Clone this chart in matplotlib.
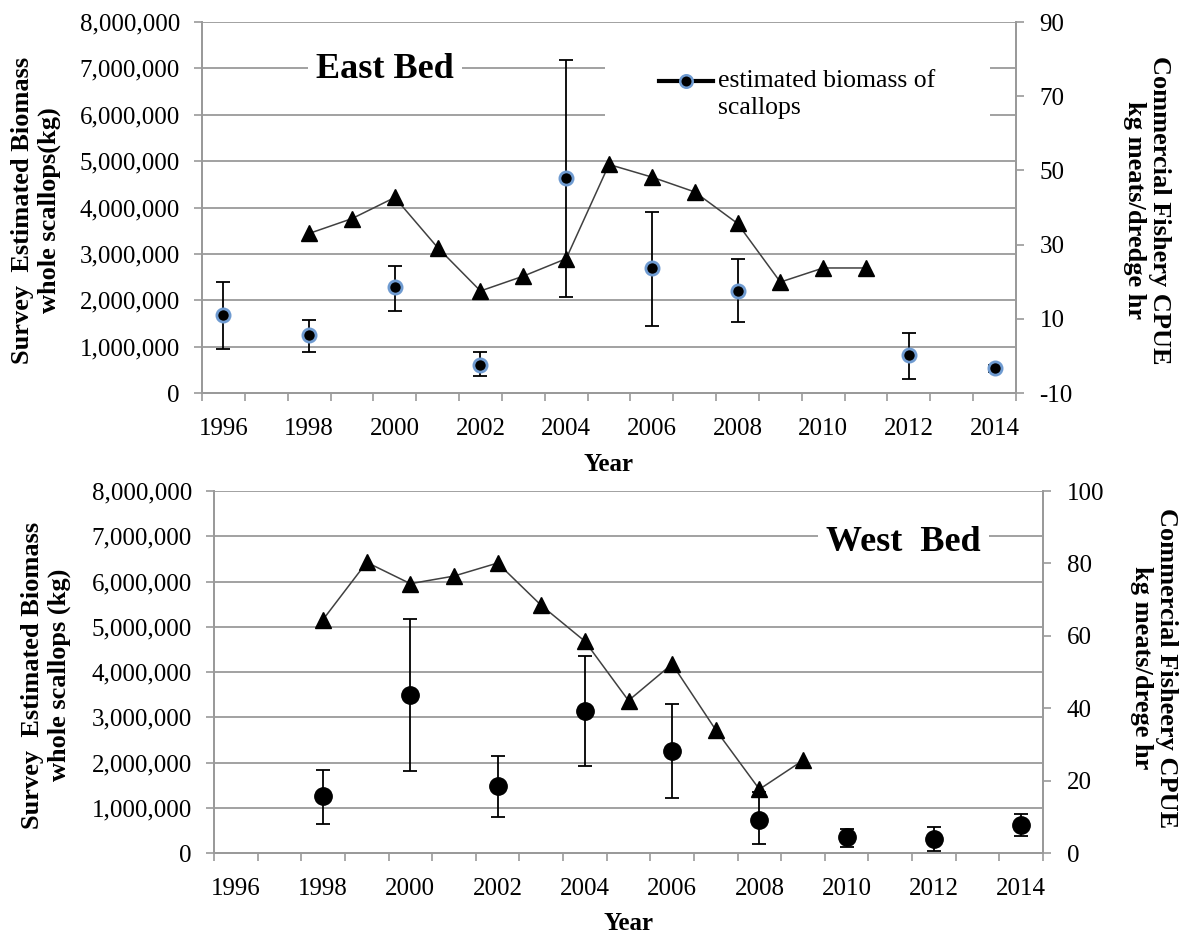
import numpy as np
import matplotlib
matplotlib.use('Agg')
import matplotlib.pyplot as plt
from matplotlib.lines import Line2D
from matplotlib.patches import Rectangle
from matplotlib.legend_handler import HandlerLine2D
from matplotlib.ticker import FuncFormatter, MultipleLocator

plt.rcParams['font.family'] = ['Liberation Serif', 'DejaVu Serif']
plt.rcParams['axes.unicode_minus'] = False

# East Bed - survey biomass (kg) with error bar ends
east_years = [1996, 1998, 2000, 2002, 2004, 2006, 2008, 2012, 2014]
east_biomass = [1690000, 1260000, 2290000, 610000, 4630000, 2700000, 2190000, 810000, 530000]
east_upper = [2400000, 1580000, 2740000, 890000, 7190000, 3910000, 2880000, 1300000, 610000]
east_lower = [940000, 890000, 1770000, 360000, 2080000, 1440000, 1530000, 310000, 460000]

# East Bed - commercial CPUE
east_cpue_years = [1998, 1999, 2000, 2001, 2002, 2003, 2004, 2005, 2006, 2007, 2008, 2009, 2010, 2011]
east_cpue = [33.0, 37.0, 42.7, 29.2, 17.5, 21.5, 26.2, 51.6, 48.2, 44.2, 35.7, 19.9, 23.7, 23.7]

# West Bed - survey biomass (kg) with error bar ends
west_years = [1998, 2000, 2002, 2004, 2006, 2008, 2010, 2012, 2014]
west_biomass = [1250000, 3500000, 1470000, 3140000, 2260000, 730000, 350000, 320000, 620000]
west_upper = [1840000, 5170000, 2150000, 4350000, 3300000, 1350000, 540000, 570000, 870000]
west_lower = [650000, 1810000, 790000, 1930000, 1220000, 200000, 130000, 50000, 370000]

# West Bed - commercial CPUE
west_cpue_years = [1998, 1999, 2000, 2001, 2002, 2003, 2004, 2005, 2006, 2007, 2008, 2009]
west_cpue = [64.5, 80.3, 74.4, 76.5, 80.1, 68.4, 58.5, 42.1, 52.2, 34.0, 17.6, 25.6]

year_ticks = list(range(1996, 2015, 2))

grid_col = '#9a9a9a'
fs = 18
W, H = 1184, 934

fig = plt.figure(figsize=(W / 100, H / 100), dpi=100)


class FirstLineHandler(HandlerLine2D):
    # put the legend key level with the first line of a two-line label
    def create_artists(self, legend, orig_handle, xdescent, ydescent, width, height, fontsize, trans):
        return super().create_artists(legend, orig_handle, xdescent, ydescent - 19,
                                      width, height, fontsize, trans)


def setup_panel(ax, ax2):
    # category style x axis: labels on even years, tick marks between years
    ax.set_xlim(1995.5, 2014.5)
    ax.set_xticks(year_ticks)
    ax.set_xticklabels([str(y) for y in year_ticks])
    ax.set_xticks(np.arange(1995.5, 2015, 1), minor=True)
    ax.tick_params(axis='x', which='major', length=0, pad=18, labelsize=fs)
    ax.tick_params(axis='x', which='minor', length=6, width=1.2, color=grid_col, direction='out')
    ax.set_ylim(0, 8000000)
    ax.yaxis.set_major_locator(MultipleLocator(1000000))
    ax.yaxis.set_major_formatter(FuncFormatter(lambda v, p: '{:,.0f}'.format(v)))
    ax.tick_params(axis='y', length=6, width=1.2, color=grid_col, labelsize=fs, pad=10)
    ax.grid(axis='y', color=grid_col, linewidth=1.3)
    ax.set_axisbelow(True)
    ax2.tick_params(axis='y', length=6, width=1.2, color=grid_col, labelsize=fs, pad=11)
    for a in (ax, ax2):
        a.spines['top'].set_visible(False)
        for s in ('left', 'right', 'bottom'):
            a.spines[s].set_color(grid_col)
            a.spines[s].set_linewidth(1.3)


# ---- Top panel: East Bed ----
ax1 = fig.add_axes([202 / W, 1 - 393 / H, 814 / W, 371 / H])
ax1b = ax1.twinx()
setup_panel(ax1, ax1b)
ax1b.set_ylim(-10, 90)
ax1b.set_yticks([-10, 10, 30, 50, 70, 90])

yerr = [np.array(east_biomass) - np.array(east_lower), np.array(east_upper) - np.array(east_biomass)]
ax1.errorbar(east_years, east_biomass, yerr=yerr, fmt='none', ecolor='black',
             elinewidth=1.3, capsize=5, capthick=1.3, zorder=3)
ax1.plot(east_years, east_biomass, 'o', color='black', markersize=9.5,
         markeredgecolor='#6f9bd1', markeredgewidth=2, zorder=4)
ax1b.plot(east_cpue_years, east_cpue, '-', color='#404040', linewidth=1.1,
          marker='^', markersize=12, markerfacecolor='black', markeredgecolor='black')

ax1.text(0.225, 0.873, 'East Bed', transform=ax1.transAxes, ha='center', va='center',
         fontsize=26, fontweight='bold',
         bbox=dict(facecolor='white', edgecolor='none', pad=6), zorder=5)

# white area behind the legend, breaking the gridlines like the original
ax1.add_patch(Rectangle((0.495, 0.714), 0.473, 0.197, transform=ax1.transAxes,
                        facecolor='white', edgecolor='none', zorder=2))
handle = Line2D([0], [0], color='black', linewidth=3, marker='o', markersize=9,
                markerfacecolor='black', markeredgecolor='#6f9bd1', markeredgewidth=1.8)
leg = ax1b.legend([handle], ['estimated biomass of\nscallops'], loc='upper left',
                  bbox_to_anchor=(0.561, 0.870), fontsize=18.5, handlelength=2.1,
                  handletextpad=0.2, frameon=False, borderpad=0, borderaxespad=0,
                  handler_map={Line2D: FirstLineHandler()})
leg.get_texts()[0].set_linespacing(1.3)

fig.text(36 / W, 1 - 210 / H, 'Survey  Estimated Biomass\nwhole scallops(kg)', fontsize=19,
         fontweight='bold', rotation=90, ha='center', va='center', multialignment='center',
         linespacing=1.15)
fig.text(1147 / W, 1 - 210 / H, 'Commercial Fishery CPUE\nkg meats/dredge hr', fontsize=19,
         fontweight='bold', rotation=270, ha='center', va='center', multialignment='center',
         linespacing=1.15)
ax1.set_xlabel('Year', fontsize=fs, fontweight='bold', labelpad=9)

# ---- Bottom panel: West Bed ----
ax2 = fig.add_axes([214 / W, 1 - 853 / H, 829 / W, 362 / H])
ax2b = ax2.twinx()
setup_panel(ax2, ax2b)
ax2b.set_ylim(0, 100)
ax2b.set_yticks(range(0, 101, 20))

yerr = [np.array(west_biomass) - np.array(west_lower), np.array(west_upper) - np.array(west_biomass)]
ax2.errorbar(west_years, west_biomass, yerr=yerr, fmt='none', ecolor='black',
             elinewidth=1.3, capsize=5, capthick=1.3, zorder=3)
ax2.plot(west_years, west_biomass, 'o', color='black', markersize=12.5, zorder=4)
ax2b.plot(west_cpue_years, west_cpue, '-', color='#404040', linewidth=1.1,
          marker='^', markersize=12, markerfacecolor='black', markeredgecolor='black')

ax2.text(0.832, 0.857, 'West  Bed', transform=ax2.transAxes, ha='center', va='center',
         fontsize=26, fontweight='bold',
         bbox=dict(facecolor='white', edgecolor='none', pad=6), zorder=5)

fig.text(46 / W, 1 - 675 / H, 'Survey  Estimated Biomass\nwhole scallops (kg)', fontsize=19,
         fontweight='bold', rotation=90, ha='center', va='center', multialignment='center',
         linespacing=1.15)
fig.text(1154 / W, 1 - 668 / H, 'Commercial Fisheery CPUE\nkg meats/drege hr', fontsize=19,
         fontweight='bold', rotation=270, ha='center', va='center', multialignment='center',
         linespacing=1.15)
ax2.set_xlabel('Year', fontsize=fs, fontweight='bold', labelpad=9)

fig.savefig('out.png', dpi=100)
